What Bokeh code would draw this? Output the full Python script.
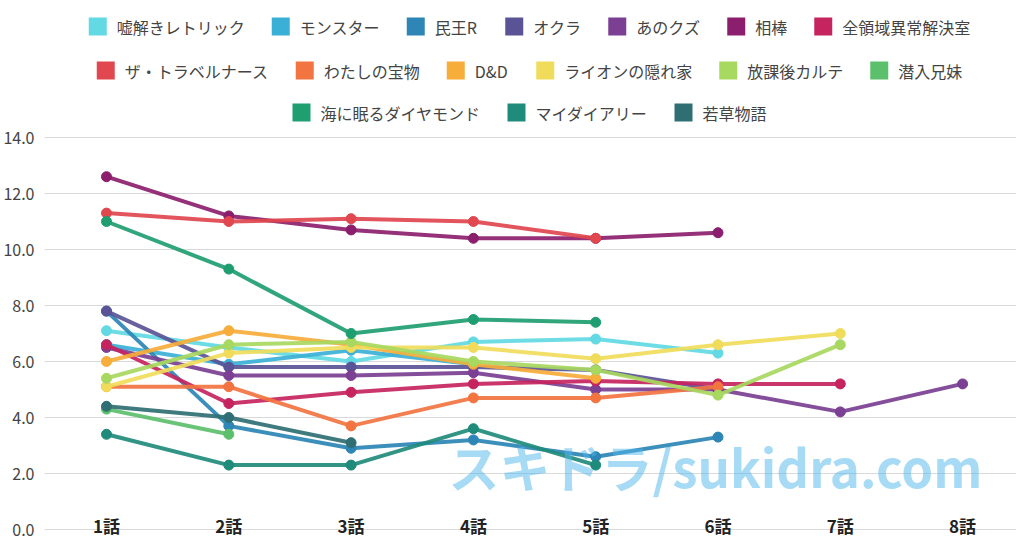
from bokeh.plotting import figure
from bokeh.models import Range1d, FixedTicker, NumeralTickFormatter, Label
from bokeh.core.properties import value
from bokeh.embed import file_html
from bokeh.resources import INLINE

nan = float("nan")

episodes = ["1話", "2話", "3話", "4話", "5話", "6話", "7話", "8話"]
ep_idx = list(range(1, len(episodes) + 1))

names = ["嘘解きレトリック", "モンスター", "民王R", "オクラ", "あのクズ", "相棒",
         "全領域異常解決室", "ザ・トラベルナース", "わたしの宝物", "D&D",
         "ライオンの隠れ家", "放課後カルテ", "潜入兄妹", "海に眠るダイヤモンド",
         "マイダイアリー", "若草物語"]

colors = ["#62d9e3", "#3bb0d6", "#2d86b5", "#5a5497", "#7b3f93", "#8b1f6d",
          "#c5245e", "#e0474f", "#f27441", "#f6ad3a", "#f0dc5a", "#a7d860",
          "#5cbf6c", "#1f9e72", "#1f8b7a", "#2f6f73"]

usotoki   = [7.1, 6.5, 6.0, 6.7, 6.8, 6.3, nan, nan]
monster   = [6.6, 5.9, 6.4, 5.9, nan, nan, nan, nan]
tamiou    = [7.8, 3.7, 2.9, 3.2, 2.6, 3.3, nan, nan]
okura     = [7.8, 5.8, 5.8, 5.8, 5.7, 5.0, nan, nan]
anokuzu   = [6.5, 5.5, 5.5, 5.6, 5.0, 5.0, 4.2, 5.2]
aibou     = [12.6, 11.2, 10.7, 10.4, 10.4, 10.6, nan, nan]
zenryoiki = [6.6, 4.5, 4.9, 5.2, 5.3, 5.2, 5.2, nan]
travel    = [11.3, 11.0, 11.1, 11.0, 10.4, nan, nan, nan]
takaramono = [5.1, 5.1, 3.7, 4.7, 4.7, 5.1, nan, nan]
dd        = [6.0, 7.1, 6.6, 5.9, 5.4, nan, nan, nan]
lion      = [5.1, 6.3, 6.5, 6.5, 6.1, 6.6, 7.0, nan]
houkago   = [5.4, 6.6, 6.7, 6.0, 5.7, 4.8, 6.6, nan]
sennyu    = [4.3, 3.4, nan, nan, nan, nan, nan, nan]
umi       = [11.0, 9.3, 7.0, 7.5, 7.4, nan, nan, nan]
mydiary   = [3.4, 2.3, 2.3, 3.6, 2.3, nan, nan, nan]
wakakusa  = [4.4, 4.0, 3.1, nan, nan, nan, nan, nan]

series = [usotoki, monster, tamiou, okura, anokuzu, aibou, zenryoiki, travel,
          takaramono, dd, lion, houkago, sennyu, umi, mydiary, wakakusa]

legend_rows = [(0, 7), (7, 13), (13, 16)]

FONT = "Noto Sans CJK JP"

# ---- layout (screen pixels inside the figure) ----
W, H = 1016, 538
FRAME_LEFT = 44          # approx width of the y-axis panel
PX_PER_EP = 122.3
FIRST_EP_PX = 106        # screen x of 1話
PX_PER_VAL = 28.0
ZERO_PX = 529            # screen y of value 0

x0 = 1 - (FIRST_EP_PX - FRAME_LEFT) / PX_PER_EP
x1 = x0 + (W - FRAME_LEFT) / PX_PER_EP
y0 = -(H - ZERO_PX) / PX_PER_VAL
y1 = ZERO_PX / PX_PER_VAL


def px_to_x(px):
    return x0 + (px - FRAME_LEFT) / PX_PER_EP


def py_to_y(py):
    return (ZERO_PX - py) / PX_PER_VAL


p = figure(width=W, height=H, output_backend="svg", toolbar_location=None,
           x_range=Range1d(x0, x1), y_range=Range1d(y0, y1),
           x_axis_location=None, min_border_left=0, min_border_right=0,
           min_border_top=0, min_border_bottom=0)
p.outline_line_color = None
p.xgrid.grid_line_color = None
p.ygrid.grid_line_color = "#d9d9d9"
p.ygrid.grid_line_width = 1

ya = p.yaxis[0]
ya.ticker = FixedTicker(ticks=[0, 2, 4, 6, 8, 10, 12, 14])
ya.formatter = NumeralTickFormatter(format="0.0")
ya.axis_line_color = None
ya.major_tick_line_color = None
ya.minor_tick_line_color = None
ya.major_tick_out = 0
ya.major_tick_in = 0
ya.major_label_standoff = 10
ya.major_label_text_font = FONT
ya.major_label_text_font_size = "16px"
ya.major_label_text_color = "#444444"
p.ygrid.ticker = ya.ticker

for vals, c in zip(series, colors):
    p.line(x=ep_idx, y=vals, line_color=c, line_width=4, line_alpha=0.92)
    p.scatter(x=ep_idx, y=vals, size=10, fill_color=c, line_color=c)

p.text(x=ep_idx, y=[0] * len(episodes), text=episodes, text_align="center",
       text_baseline="middle", y_offset=-4, text_font=value(FONT),
       text_font_style="bold", text_font_size="17px", text_color="#222222")

p.add_layout(Label(x=px_to_x(715), y=py_to_y(465), text="スキドラ/sukidra.com",
                   text_align="center", text_baseline="middle", text_font=FONT,
                   text_font_size="51px", text_font_style="bold",
                   text_color="#4fb6ea", text_alpha=0.5))


# ---- legend: three centred rows of colour squares + labels ----
def text_w(s):
    return sum(16 if ord(ch) > 0x2000 else 11.5 for ch in s)


SQ, GAP, SPACING = 18, 10, 27
ROW_PY = [26, 70, 112]
CENTER_PX = 529
sq_x, sq_y, sq_c, tx_x, tx_y, tx_t = [], [], [], [], [], []
for (a, b), py in zip(legend_rows, ROW_PY):
    idx = list(range(a, b))
    total = sum(SQ + GAP + text_w(names[i]) for i in idx) + SPACING * (len(idx) - 1)
    cur = CENTER_PX - total / 2
    for i in idx:
        sq_x.append(px_to_x(cur + SQ / 2))
        sq_y.append(py_to_y(py))
        sq_c.append(colors[i])
        tx_x.append(px_to_x(cur + SQ + GAP))
        tx_y.append(py_to_y(py))
        tx_t.append(names[i])
        cur += SQ + GAP + text_w(names[i]) + SPACING

p.scatter(x=sq_x, y=sq_y, marker="square", size=SQ, fill_color=sq_c, line_color=None)
p.text(x=tx_x, y=tx_y, text=tx_t, text_align="left", text_baseline="middle",
       text_font=value(FONT), text_font_size="16px", text_color="#444444")

open("out.html", "w").write(file_html(p, INLINE))
